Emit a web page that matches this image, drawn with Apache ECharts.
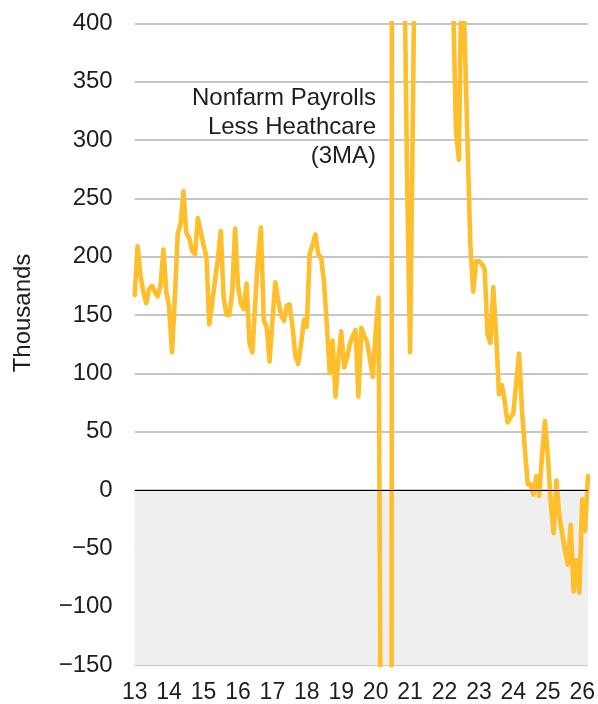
<!DOCTYPE html>
<html><head><meta charset="utf-8">
<script src="https://cdn.jsdelivr.net/npm/echarts@6.0.0/dist/echarts.min.js"></script>
<style>html,body{margin:0;padding:0;background:#fff}#c{width:598px;height:704px}</style>
</head><body><div id="c"></div><script>
// Monthly, Jan 2013 .. Mar 2026 (3-month average, thousands)
const startYear = 2013;
const v2013 = [167, 209, 184, 170, 160, 172, 175, 170, 166, 175, 206, 170];
const v2014 = [157, 118, 165, 220, 228, 256, 220, 216, 205, 202, 233, 222];
const v2015 = [210, 200, 142, 160, 180, 198, 222, 165, 150, 150, 170, 224];
const v2016 = [175, 160, 155, 177, 126, 118, 160, 200, 225, 145, 140, 110];
const v2017 = [145, 178, 163, 150, 145, 158, 159, 140, 115, 108, 125, 146];
const v2018 = [140, 203, 210, 219, 202, 199, 178, 140, 100, 128, 80, 113];
const v2019 = [136, 105, 113, 125, 132, 137, 80, 139, 132, 127, 112, 97];
const v2020 = [135, 165, -350, -7000, -6300, -4200, 3000, 1800, 1100, 750, 450, 260];
const v2021 = [118, 330, 550, 600, 650, 620, 580, 600, 700, 600, 550, 580];
const v2022 = [600, 540, 480, 420, 307, 283, 460, 390, 300, 210, 170, 196];
const v2023 = [196, 194, 189, 133, 126, 174, 133, 82, 90, 75, 58, 62];
const v2024 = [66, 92, 117, 68, 35, 5, 5, -4, 12, -5, 30, 59];
const v2025 = [30, -10, -37, 8, -22, -37, -52, -64, -30, -87, -60, -88];
const v2026 = [-8, -35, 12];
const values = [].concat(v2013, v2014, v2015, v2016, v2017, v2018, v2019, v2020, v2021, v2022, v2023, v2024, v2025, v2026);
const months = [];
for (let i = 0; i < values.length; i++) {
  const y = startYear + Math.floor(i / 12), m = (i % 12) + 1;
  months.push(y + '-' + (m < 10 ? '0' + m : m));
}
const yMin = -150, yMax = 400, yStep = 50;
const seriesName = 'Nonfarm Payrolls\nLess Heathcare\n(3MA)';
const yName = 'Thousands';

const FONT = 'Liberation Sans, Arial, sans-serif';
const TXT = '#1e1e1e';
const chart = echarts.init(document.getElementById('c'), null, {renderer: 'canvas'});
chart.setOption({
  animation: false,
  backgroundColor: '#ffffff',
  grid: {left: 134.7, right: 7.3, top: 23.3, bottom: 38.3, containLabel: false},
  xAxis: {
    type: 'category', boundaryGap: false, data: months,
    axisLine: {show: false}, axisTick: {show: false}, splitLine: {show: false},
    axisLabel: {
      interval: function (i, v) { return v.slice(5) === '01'; },
      formatter: function (v) { return v.slice(2, 4); },
      fontSize: 23, color: TXT, fontFamily: FONT, margin: 16
    }
  },
  yAxis: {
    type: 'value', min: yMin, max: yMax, interval: yStep, z: 1,
    axisLine: {show: false}, axisTick: {show: false},
    splitLine: {show: true, lineStyle: {color: '#C6C6C6', width: 2}},
    axisLabel: {
      fontSize: 24, color: TXT, fontFamily: FONT, margin: 22,
      formatter: function (v) { return v < 0 ? '\u2212' + Math.abs(v) : String(v); }
    }
  },
  series: [
    {type: 'line', data: [], z: 0, silent: true,
     markArea: {silent: true, itemStyle: {color: '#EFEFEF'}, data: [[{yAxis: 0}, {yAxis: yMin}]]}},
    {type: 'line', data: [], z: 2, silent: true,
     markLine: {silent: true, symbol: 'none', label: {show: false},
       lineStyle: {color: '#000000', width: 1.2, type: 'solid'}, data: [{yAxis: 0}]}},
    {type: 'line', name: seriesName, data: values, z: 3, showSymbol: false, symbol: 'none',
     clip: true, lineStyle: {color: '#FFBE2B', width: 4.6, join: 'round', cap: 'round'}}
  ],
  graphic: [
    {type: 'text', x: 23, y: 313, rotation: Math.PI / 2,
     style: {text: yName, fontSize: 24, fontFamily: FONT, fill: TXT,
       textAlign: 'center', textVerticalAlign: 'middle', align: 'center', verticalAlign: 'middle'}},
    {type: 'text', x: 376, y: 84,
     style: {text: seriesName, fontSize: 24, fontFamily: FONT, fill: TXT, lineHeight: 29,
       textAlign: 'right', textVerticalAlign: 'top', align: 'right', verticalAlign: 'top'}}
  ]
});
</script></body></html>
